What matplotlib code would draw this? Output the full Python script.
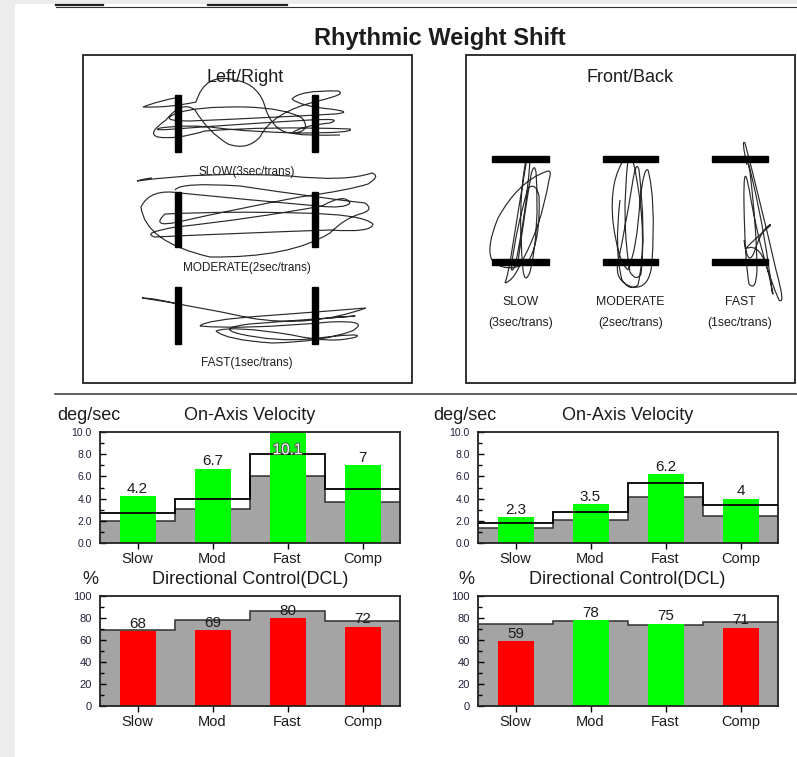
import matplotlib

matplotlib.use("Agg")
import matplotlib.pyplot as plt
from matplotlib.patches import PathPatch, Rectangle
from matplotlib.path import Path
import matplotlib.patheffects as pe

plt.rcParams["font.family"] = ["Liberation Sans", "DejaVu Sans"]

INK = "#1c1c1c"
TRACE = "#2a2a2a"
GRAY = "#a4a4a4"
GREEN = "#00ff00"
RED = "#ff0000"
PAGE_BG = "#ececec"

W, H = 797, 757

CATEGORIES = ["Slow", "Mod", "Fast", "Comp"]

# On-axis velocity (deg/sec): patient value, normal band (lower / upper)
VEL_LEFT = [4.2, 6.7, 10.1, 7]
VEL_LEFT_LOW = [1.95, 3.1, 6.05, 3.7]
VEL_LEFT_HIGH = [2.7, 4.0, 8.0, 4.9]
VEL_RIGHT = [2.3, 3.5, 6.2, 4]
VEL_RIGHT_LOW = [1.35, 2.05, 4.1, 2.45]
VEL_RIGHT_HIGH = [1.8, 2.75, 5.4, 3.4]

# Directional control (%): patient value and normal level
DCL_LEFT = [68, 69, 80, 72]
DCL_LEFT_NORM = [69, 78, 86, 77]
DCL_RIGHT = [59, 78, 75, 71]
DCL_RIGHT_NORM = [74.5, 77.3, 74, 76]

# Sway traces, page pixels: start point, then (control, end) pairs
SLOW_LR = [
    (180, 97),
    (158, 101), (143, 107),
    (168, 108), (196, 102),
    (205, 72), (235, 80),
    (260, 84), (266, 110),
    (275, 134), (294, 133),
    (312, 131), (302, 118),
    (285, 108), (245, 107),
    (195, 106), (175, 114),
    (158, 121), (190, 121),
    (265, 118), (335, 114),
    (355, 112), (330, 109),
    (300, 106), (292, 99),
    (300, 90), (338, 91),
    (348, 94), (318, 101),
    (272, 112), (260, 137),
    (247, 151), (228, 144),
    (208, 132), (195, 110),
    (182, 100), (166, 120),
    (146, 134), (158, 137),
    (175, 140), (205, 131),
    (270, 126), (350, 129),
    (356, 133), (300, 133),
    (250, 132), (218, 128),
    (190, 124), (160, 128),
    (150, 131), (175, 129),
    (240, 124), (310, 120),
    (345, 118), (330, 123),
    (300, 126), (292, 133),
    (300, 136), (340, 135),
]
MOD_LR = [
    (152, 178),
    (142, 179), (137, 181),
    (210, 171), (290, 176),
    (345, 182), (372, 173),
    (381, 176), (368, 184),
    (350, 190), (300, 197),
    (240, 208), (178, 222),
    (150, 228), (165, 214),
    (230, 211), (300, 213),
    (362, 214), (373, 224),
    (372, 233), (330, 230),
    (240, 233), (155, 237),
    (140, 233), (176, 227),
    (250, 219), (322, 206),
    (345, 193), (350, 203),
    (345, 209), (318, 206),
    (250, 200), (180, 193),
    (150, 188), (141, 207),
    (145, 242), (210, 257),
    (290, 258), (330, 233),
    (345, 218), (360, 214),
    (375, 210), (365, 203),
    (320, 198), (240, 186),
    (180, 182), (175, 190),
]
FAST_LR = [
    (182, 305),
    (155, 298), (142, 298),
    (190, 305), (250, 318),
    (310, 328), (366, 308),
    (330, 311), (262, 316),
    (205, 320), (200, 326),
    (240, 330), (330, 322),
    (372, 320), (352, 331),
    (322, 342), (272, 343),
    (226, 340), (216, 331),
    (232, 325), (292, 335),
    (332, 344), (356, 337),
    (366, 332), (310, 339),
    (276, 342), (240, 334),
    (215, 328), (250, 324),
    (300, 320), (355, 316),
    (368, 315), (330, 318),
]
SLOW_FB = [
    (527, 158),
    (520, 200), (512, 250),
    (508, 276), (505, 283),
    (513, 281), (520, 265),
    (541, 228), (549, 180),
    (553, 168), (545, 172),
    (518, 182), (498, 218),
    (484, 252), (494, 263),
    (510, 273), (528, 262),
    (541, 240), (539, 196),
    (536, 182), (528, 188),
    (516, 230), (512, 262),
    (510, 276), (515, 266),
    (526, 215), (530, 161),
    (533, 154), (526, 160),
    (517, 205), (523, 270),
    (525, 285), (530, 272),
    (540, 230), (536, 172),
    (534, 162), (531, 175),
    (522, 230), (518, 262),
]
MOD_FB = [
    (625, 158),
    (609, 180), (613, 222),
    (618, 262), (628, 270),
    (637, 250), (640, 200),
    (644, 166), (648, 170),
    (656, 200), (652, 262),
    (650, 290), (632, 287),
    (614, 281), (618, 262),
    (625, 230), (632, 186),
    (636, 158), (639, 170),
    (646, 230), (641, 274),
    (636, 282), (630, 272),
    (621, 220), (628, 160),
    (632, 150), (636, 175),
    (648, 240), (638, 285),
    (630, 292), (622, 280),
    (614, 250), (620, 200),
]
FAST_FB = [
    (747, 165),
    (741, 138), (745, 143),
    (760, 200), (776, 270),
    (786, 306), (779, 300),
    (762, 262), (751, 200),
    (743, 150), (744, 205),
    (745, 262), (749, 284),
    (756, 292), (757, 270),
    (757, 232), (750, 172),
    (745, 148), (753, 182),
    (766, 238), (772, 292),
    (775, 300), (770, 280),
    (762, 240), (745, 249),
    (758, 236), (770, 226),
    (772, 222), (766, 228),
    (760, 234), (755, 250),
    (748, 270), (744, 240),
]

# target bars: left/right columns and rows, front/back columns and rows
LR_BAR_X = [178, 315]
LR_ROWS = [(95, 152), (192, 247), (287, 344)]
LR_LABELS = ["SLOW(3sec/trans)", "MODERATE(2sec/trans)", "FAST(1sec/trans)"]
LR_LABEL_Y = [172, 268, 363]
FB_COLS = [(492, 549), (603, 658), (712, 768)]
FB_BAR_Y = [159, 262]
FB_LABELS = [("SLOW", "(3sec/trans)"), ("MODERATE", "(2sec/trans)"),
             ("FAST", "(1sec/trans)")]


def trace(ax, pts):
    codes = [Path.MOVETO] + [Path.CURVE3] * (len(pts) - 1)
    if len(pts) % 2 == 0:
        codes[-1] = Path.LINETO
    ax.add_patch(PathPatch(Path(pts, codes), fill=False, lw=0.85,
                           ec=TRACE, zorder=2))


def px_axes(fig, x0, y0, x1, y1):
    return fig.add_axes([x0 / W, 1 - y1 / H, (x1 - x0) / W, (y1 - y0) / H])


def bar_panel(ax, values, low, high, ymax, yticks, ytick_fmt, tick_size):
    x = range(len(CATEGORIES))
    edges = [i - 0.5 for i in range(len(CATEGORIES) + 1)]
    ax.stairs(low, edges, fill=True, color=GRAY, zorder=1)
    ax.stairs(low, edges, baseline=None, color="#303030", lw=1.1, zorder=1.5)
    colors = [GREEN if v >= n else RED for v, n in zip(values, low)]
    ax.bar(x, values, width=0.48, color=colors, zorder=2)
    if high is not None:
        ax.stairs(high, edges, baseline=None, color="black", lw=1.3, zorder=3)
    for i, v in enumerate(values):
        label = f"{v:g}"
        if v > ymax:
            ax.text(i, ymax * 0.9, label, ha="center", va="top", fontsize=11,
                    color="white", zorder=4,
                    path_effects=[pe.withStroke(linewidth=1.4, foreground="#555555")])
        else:
            ax.annotate(label, (i, v), xytext=(0, 0.3), textcoords="offset points",
                        ha="center", va="bottom", fontsize=11, color=INK, zorder=4)
    ax.set_xlim(-0.5, len(CATEGORIES) - 0.5)
    ax.set_ylim(0, ymax)
    ax.set_xticks(list(x))
    ax.set_xticklabels(CATEGORIES, fontsize=10.5, color=INK)
    ax.set_yticks(yticks)
    ax.set_yticklabels([ytick_fmt.format(t) for t in yticks], fontsize=tick_size,
                       color="#20203a")
    ax.set_yticks([t + (yticks[1] - yticks[0]) / 2 for t in yticks[:-1]], minor=True)
    ax.tick_params(axis="x", direction="out", length=4, width=1, pad=2.5)
    ax.tick_params(axis="y", which="major", direction="in", length=4, width=1, pad=6)
    ax.tick_params(axis="y", which="minor", direction="in", length=3, width=1)
    for s in ax.spines.values():
        s.set_linewidth(1.3)
        s.set_color("#222222")


def main():
    fig = plt.figure(figsize=(W / 100, H / 100), dpi=100, facecolor=PAGE_BG)
    page = fig.add_axes([0, 0, 1, 1])
    page.set_xlim(0, W)
    page.set_ylim(H, 0)
    page.axis("off")
    page.add_patch(Rectangle((15, 4), W - 15, H - 4, facecolor="white",
                             edgecolor="none", zorder=0))

    # header rules
    page.plot([56, W], [7, 7], color="#333333", lw=0.8)
    page.plot([56, 103], [5, 5], color="#222222", lw=1.6)
    page.plot([208, 287], [5, 5], color="#222222", lw=1.6)

    page.text(440, 38, "Rhythmic Weight Shift", ha="center", va="center",
              fontsize=17, fontweight="bold", color=INK)

    # trace boxes
    for x0, x1 in [(83, 412), (466, 795)]:
        page.add_patch(Rectangle((x0, 55), x1 - x0, 328, fill=False,
                                 edgecolor="#222222", lw=1.3, zorder=1))
    page.plot([55, W], [394, 394], color="#333333", lw=1.1)

    # left / right panel
    page.text(245, 77, "Left/Right", ha="center", va="center", fontsize=13, color=INK)
    for (y0, y1), label, ly in zip(LR_ROWS, LR_LABELS, LR_LABEL_Y):
        for bx in LR_BAR_X:
            page.add_patch(Rectangle((bx - 3, y0), 6, y1 - y0, color="black", zorder=3))
        page.text(247, ly, label, ha="center", va="center", fontsize=8.5, color=INK)
    for pts in (SLOW_LR, MOD_LR, FAST_LR):
        trace(page, pts)

    # front / back panel
    page.text(630, 77, "Front/Back", ha="center", va="center", fontsize=13, color=INK)
    for (x0, x1), (name, rate) in zip(FB_COLS, FB_LABELS):
        for by in FB_BAR_Y:
            page.add_patch(Rectangle((x0, by - 3), x1 - x0, 6, color="black", zorder=3))
        cx = (x0 + x1) / 2
        page.text(cx, 302, name, ha="center", va="center", fontsize=8.8, color=INK)
        page.text(cx, 323, rate, ha="center", va="center", fontsize=8.8, color=INK)
    for pts in (SLOW_FB, MOD_FB, FAST_FB):
        trace(page, pts)

    # chart headings
    for unit_x, title_x in [(57, 250), (433, 628)]:
        page.text(unit_x, 416, "deg/sec", ha="left", va="center", fontsize=13, color=INK)
        page.text(title_x, 416, "On-Axis Velocity", ha="center", va="center",
                  fontsize=13, color=INK)
    for unit_x, title_x in [(82, 250), (458, 627)]:
        page.text(unit_x, 580, "%", ha="left", va="center", fontsize=13, color=INK)
        page.text(title_x, 580, "Directional Control(DCL)", ha="center", va="center",
                  fontsize=13, color=INK)

    vel_ticks = [0, 2, 4, 6, 8, 10]
    dcl_ticks = [0, 20, 40, 60, 80, 100]

    ax = px_axes(fig, 100, 432, 400, 543)
    bar_panel(ax, VEL_LEFT, VEL_LEFT_LOW, VEL_LEFT_HIGH, 10, vel_ticks, "{:.1f}", 7.5)
    ax = px_axes(fig, 478, 432, 778, 543)
    bar_panel(ax, VEL_RIGHT, VEL_RIGHT_LOW, VEL_RIGHT_HIGH, 10, vel_ticks, "{:.1f}", 7.5)
    ax = px_axes(fig, 100, 596, 400, 706)
    bar_panel(ax, DCL_LEFT, DCL_LEFT_NORM, None, 100, dcl_ticks, "{:d}", 8)
    ax = px_axes(fig, 478, 596, 778, 706)
    bar_panel(ax, DCL_RIGHT, DCL_RIGHT_NORM, None, 100, dcl_ticks, "{:d}", 8)

    fig.savefig("out.png", dpi=100, facecolor=PAGE_BG)


if __name__ == "__main__":
    main()
